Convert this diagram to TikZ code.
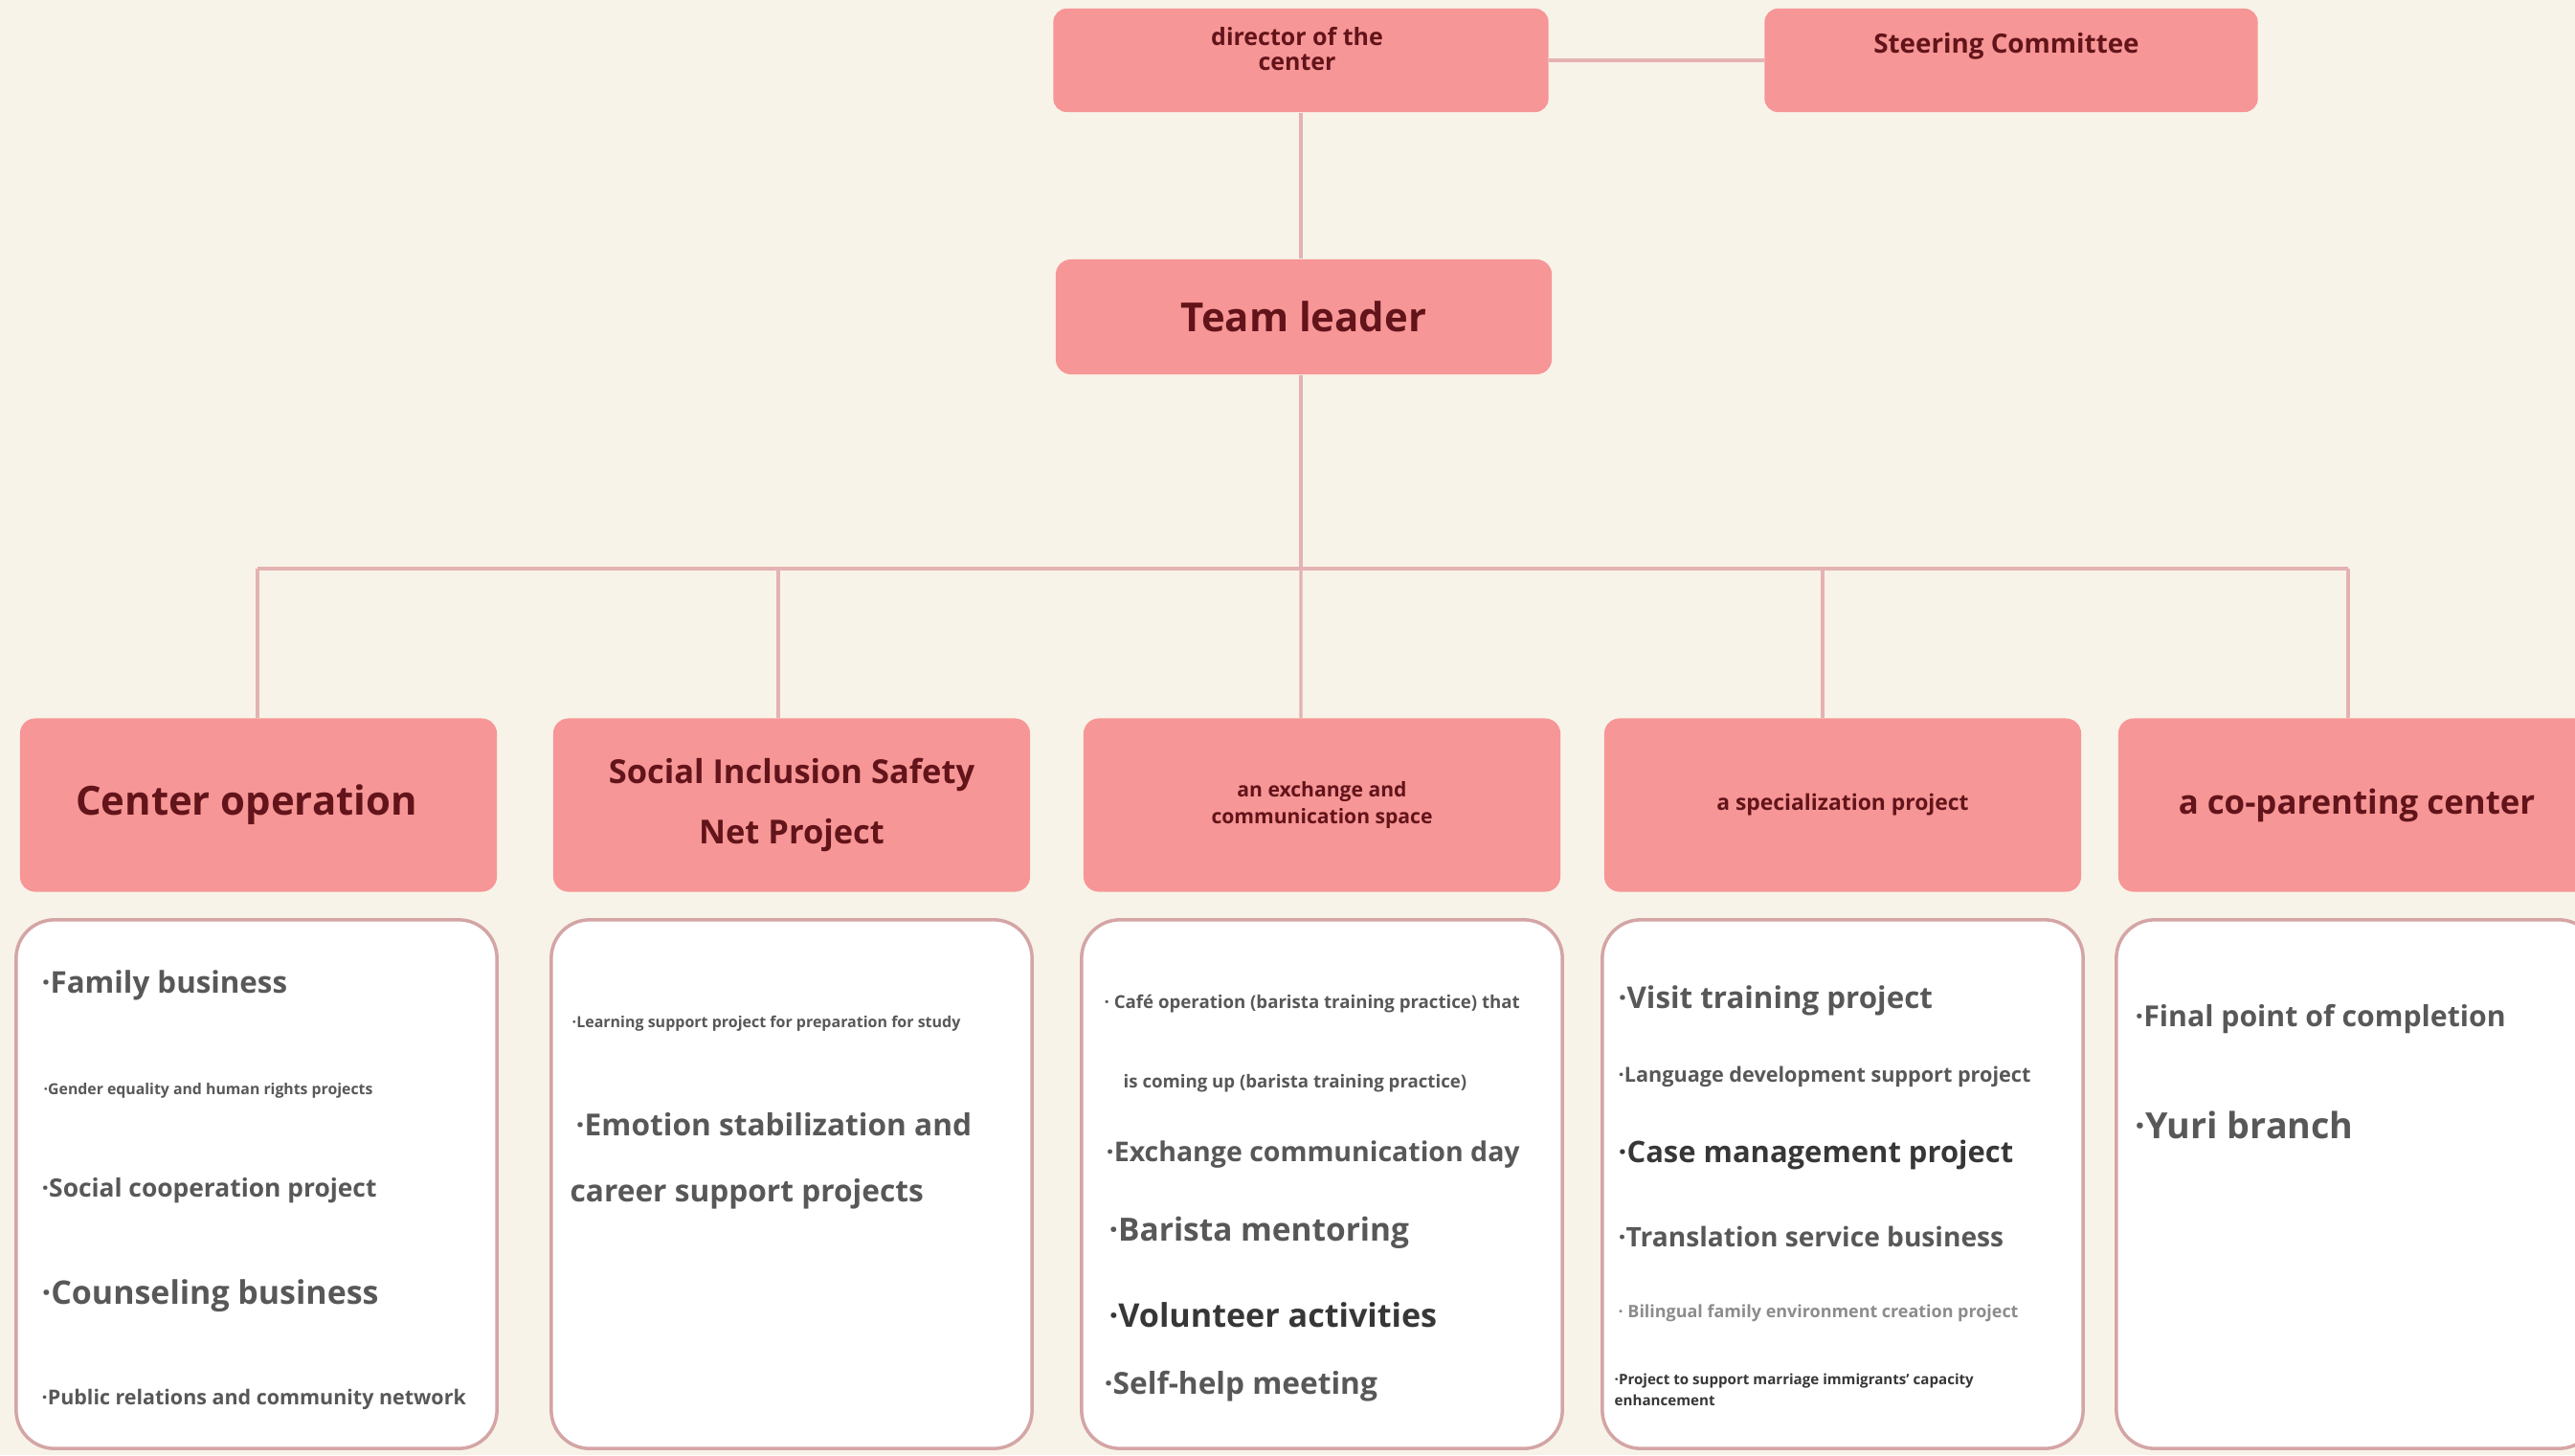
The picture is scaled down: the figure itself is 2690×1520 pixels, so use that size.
\documentclass[tikz,border=0pt]{standalone}
\usepackage{fontspec}
\setmainfont{Open Sans}
\usetikzlibrary{positioning}

\definecolor{paper}{RGB}{248,243,232}
\definecolor{boxfill}{RGB}{247,150,150}
\definecolor{boxtext}{RGB}{98,20,26}
\definecolor{linkline}{RGB}{228,178,178}
\definecolor{listedge}{RGB}{212,165,165}
\definecolor{listtext}{RGB}{88,88,88}
\definecolor{listdark}{RGB}{55,55,55}
\definecolor{listpale}{RGB}{140,140,140}

\newcommand{\fs}[2]{\fontsize{#1}{#2}\selectfont}

\begin{document}
\begin{tikzpicture}[x=0.01cm,y=-0.01cm,
  headbox/.style={fill=boxfill, rounded corners=0.16cm, text=boxtext, font=\bfseries,
    align=center, inner sep=0pt, minimum width=4.98cm, minimum height=1.81cm},
  topbox/.style={fill=boxfill, rounded corners=0.14cm, inner sep=0pt, minimum height=1.08cm},
  toptext/.style={text=boxtext, font=\bfseries, align=center, inner sep=0pt},
  listbox/.style={draw=listedge, line width=1pt, fill=white, rounded corners=0.4cm,
    inner sep=0pt, minimum width=5.02cm, minimum height=5.52cm},
  item/.style={anchor=west, text=listtext, font=\bfseries, inner sep=0pt, align=left},
  link/.style={draw=linkline, line width=0.9pt}]

% paper
\fill[paper] (0,0) rectangle (2690,1520);
\useasboundingbox (0,0) rectangle (2690,1520);

% top of the chart
\node[topbox, minimum width=5.17cm] (dir) at (1359,63) {};
\node[toptext, font=\bfseries\fs{7.1}{7.6}] (dirlbl) at (1355,51) {director of the\\center};
\node[topbox, minimum width=5.15cm] (steer) at (2101,63) {};
\node[toptext, font=\bfseries\fs{7.9}{9}] (steerlbl) at (2096,48) {Steering Committee};
\node[headbox, minimum width=5.18cm, minimum height=1.20cm, font=\bfseries\fs{11.9}{14}] (lead) at (1362,331) {Team leader};

% the five fields
\node[headbox, font=\bfseries\fs{11.9}{13}] (cat1) at (270,841) {Center operation\hspace{0.25cm}};
\node[headbox, font=\bfseries\fs{9.8}{18}] (cat2) at (827,841) {Social Inclusion Safety\\Net Project};
\node[headbox, font=\bfseries\fs{6}{7.8}] (cat3) at (1381,841) {an exchange and\\communication space};
\node[headbox, font=\bfseries\fs{6.5}{7}] (cat4) at (1925,841) {a specialization project};
\node[headbox, font=\bfseries\fs{9.9}{11}] (cat5) at (2462,841) {a co-parenting center};

% links
\coordinate (bar) at (1359,594);
\draw[link] (dir.east) -- (steer.west);
\draw[link] (dir.south) -- (lead.north -| dir.south);
\draw[link] (lead.south -| dir.south) -- (bar);
\draw[link] ([xshift=-0.01cm]cat1.north |- bar) -- ([xshift=-0.09cm]cat5.north |- bar);
\draw[link] ([xshift=-0.01cm]cat1.north |- bar) -- ([xshift=-0.01cm]cat1.north);
\draw[link] ([xshift=-0.14cm]cat2.north |- bar) -- ([xshift=-0.14cm]cat2.north);
\draw[link] (bar) -- ([xshift=-0.22cm]cat3.north);
\draw[link] ([xshift=-0.21cm]cat4.north |- bar) -- ([xshift=-0.21cm]cat4.north);
\draw[link] ([xshift=-0.09cm]cat5.north |- bar) -- ([xshift=-0.09cm]cat5.north);

% lists
\node[listbox] (list1) at (268,1237) {};
\node[listbox] (list2) at (827,1237) {};
\node[listbox] (list3) at (1381,1237) {};
\node[listbox] (list4) at (1925,1237) {};
\node[listbox] (list5) at (2462,1237) {};

\node[item, font=\bfseries\fs{8.9}{10}] (a1) at (43,1029) {·Family business};
\node[item, font=\bfseries\fs{4.5}{5}] (a2) at (45,1139) {·Gender equality and human rights projects};
\node[item, font=\bfseries\fs{7.5}{8}] (a3) at (43,1244) {·Social cooperation project};
\node[item, font=\bfseries\fs{9.65}{11}] (a4) at (43,1354) {·Counseling business};
\node[item, font=\bfseries\fs{6.1}{7}] (a5) at (43,1462) {·Public relations and community network};

\node[item, font=\bfseries\fs{4.55}{5}] (b1) at (597,1069) {·Learning support project for preparation for study};
\node[item, font=\bfseries\fs{9}{19.5}] (b2) at (595,1213) {\hspace{0.06cm}·Emotion stabilization and\\career support projects};

\node[item, font=\bfseries\fs{5.3}{23.5}] (c1) at (1153,1090) {· Café operation (barista training practice) that\\\hspace{0.2cm}is coming up (barista training practice)};
\node[item, font=\bfseries\fs{8.1}{10}] (c2) at (1155,1206) {·Exchange communication day};
\node[item, font=\bfseries\fs{9.5}{11}] (c3) at (1158,1288) {·Barista mentoring};
\node[item, font=\bfseries\fs{9.7}{10}, text=listdark] (c4) at (1158,1374) {·Volunteer activities};
\node[item, font=\bfseries\fs{9}{10}] (c5) at (1153,1448) {·Self-help meeting};

\node[item, font=\bfseries\fs{8.9}{9}] (d1) at (1690,1045) {·Visit training project};
\node[item, font=\bfseries\fs{6.15}{7}] (d2) at (1690,1125) {·Language development support project};
\node[item, font=\bfseries\fs{8.8}{10}, text=listdark] (d3) at (1690,1206) {·Case management project};
\node[item, font=\bfseries\fs{8}{9}] (d4) at (1690,1292) {·Translation service business};
\node[item, font=\bfseries\fs{5.1}{5}, text=listpale] (d5) at (1690,1372) {· Bilingual family environment creation project};
\node[item, font=\bfseries\fs{4.3}{6.2}, text=listdark] (d6) at (1686,1452) {·Project to support marriage immigrants' capacity\\enhancement};

\node[item, font=\bfseries\fs{8.6}{9}] (e1) at (2230,1065) {·Final point of completion};
\node[item, font=\bfseries\fs{10.7}{11}] (e2) at (2230,1175) {·Yuri branch};
\end{tikzpicture}
\end{document}
